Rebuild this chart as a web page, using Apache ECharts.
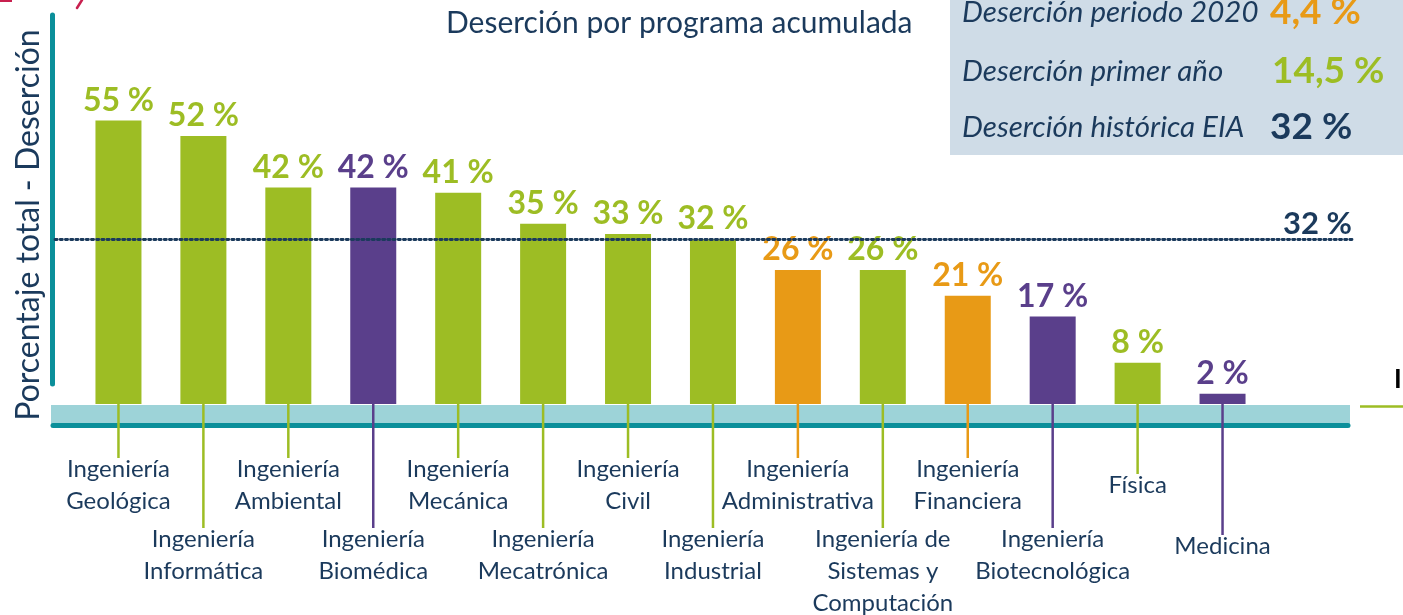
<!DOCTYPE html>
<html>
<head>
<meta charset="utf-8">
<script src="https://cdn.jsdelivr.net/npm/echarts@6/dist/echarts.min.js"></script>
<style>
  html, body { margin: 0; padding: 0; background: #ffffff; }
  #chart { width: 1403px; height: 615px; }
</style>
</head>
<body>
<div id="chart"></div>
<script>
// Programs, accumulated dropout (%) and the group each program belongs to
const programs = [
  'Ingeniería\nGeológica', 'Ingeniería\nInformática', 'Ingeniería\nAmbiental',
  'Ingeniería\nBiomédica', 'Ingeniería\nMecánica', 'Ingeniería\nMecatrónica',
  'Ingeniería\nCivil', 'Ingeniería\nIndustrial', 'Ingeniería\nAdministrativa',
  'Ingeniería de\nSistemas y\nComputación', 'Ingeniería\nFinanciera',
  'Ingeniería\nBiotecnológica', 'Física', 'Medicina'
];
const dropout = [55, 52, 42, 42, 41, 35, 33, 32, 26, 26, 21, 17, 8, 2];
const programGroup = ['A', 'A', 'A', 'B', 'A', 'A', 'A', 'A', 'C', 'A', 'C', 'B', 'A', 'B'];

// Historic reference rate
const historicRate = 32;

// Summary box
const summaryLabels = ['Deserción periodo 2020', 'Deserción primer año', 'Deserción histórica EIA'];
const summaryValues = ['4,4 %', '14,5 %', '32 %'];
const summaryGroup = ['C', 'A', 'N'];

const NAVY = '#1b3a5c';
const groupColor = { A: '#9dbd24', B: '#5a3f8b', C: '#e89a16', N: NAVY };
const FONT = 'Lato, "Open Sans", sans-serif';

// Vertical offset of each category label block (below the common label margin)
function labelGap(i) {
  const single = programs[i].indexOf('\n') < 0;
  const lower = i % 2 === 1;
  let gap = lower ? 70 : 0;
  if (single) gap += lower ? 7 : 16;
  return gap;
}

const chart = echarts.init(document.getElementById('chart'), null, { renderer: 'canvas' });

const summaryGraphics = [];
const rowY = [12, 71, 127];
const valueX = [1270, 1272, 1270];
summaryLabels.forEach(function (t, i) {
  summaryGraphics.push({
    type: 'text', z: 1,
    style: {
      x: 962, y: rowY[i], text: t, fill: NAVY,
      fontFamily: FONT, fontStyle: 'italic', fontSize: 29.5, verticalAlign: 'middle'
    }
  });
  summaryGraphics.push({
    type: 'text', z: 1,
    style: {
      x: valueX[i], y: rowY[i], text: summaryValues[i], fill: groupColor[summaryGroup[i]],
      fontFamily: FONT, fontWeight: 'bold', fontSize: 37, verticalAlign: 'middle'
    }
  });
});

const option = {
  backgroundColor: '#ffffff',
  animation: false,
  title: {
    text: 'Deserción por programa acumulada',
    left: 441, top: 3,
    textStyle: { color: NAVY, fontFamily: FONT, fontWeight: 'normal', fontSize: 30 }
  },
  grid: { left: 76, right: 138, top: 15, bottom: 210, containLabel: false },
  xAxis: {
    type: 'category',
    data: programs,
    axisLine: { show: false },
    axisTick: { show: false },
    axisLabel: {
      interval: 0,
      margin: 49,
      formatter: function (value, idx) {
        const parts = value.split('\n').map(function (s) { return '{t|' + s + '}'; });
        const gap = labelGap(idx);
        if (gap > 0) parts.unshift('{g' + gap + '| }');
        return parts.join('\n');
      },
      rich: (function () {
        const r = { t: { color: NAVY, fontFamily: FONT, fontSize: 24, lineHeight: 32 } };
        [16, 70, 77].forEach(function (g) { r['g' + g] = { fontSize: 10, lineHeight: g, height: g }; });
        return r;
      })()
    }
  },
  yAxis: {
    type: 'value',
    min: 0, max: 75.5,
    splitLine: { show: false },
    axisLine: { show: false },
    axisTick: { show: false },
    axisLabel: { show: false }
  },
  graphic: [
    { type: 'rect', z: 0, shape: { x: 950, y: 0, width: 453, height: 155 }, style: { fill: '#cfdce7' } },
    { type: 'rect', z: 0, shape: { x: 51, y: 405, width: 1299, height: 19 }, style: { fill: '#9dd3d8' } },
    { type: 'line', z: 0, shape: { x1: 53, y1: 425.5, x2: 1348, y2: 425.5 }, style: { stroke: '#0b8f9a', lineWidth: 5, lineCap: 'round' } },
    { type: 'line', z: 0, shape: { x1: 52.5, y1: 15, x2: 52.5, y2: 384 }, style: { stroke: '#0b8f9a', lineWidth: 5, lineCap: 'round' } },
    { type: 'line', z: 0, shape: { x1: 1360, y1: 406.5, x2: 1403, y2: 406.5 }, style: { stroke: '#9dbd24', lineWidth: 2.5 } },
    { type: 'text', z: 0, style: { x: 1394, y: 380, text: 'I', fill: '#000000', fontFamily: FONT, fontWeight: 'bold', fontSize: 26, verticalAlign: 'middle' } },
    // value axis title
    {
      type: 'text', z: 1, x: 29, y: 225, rotation: Math.PI / 2,
      style: {
        text: 'Porcentaje total - Deserción', fill: NAVY,
        fontFamily: FONT, fontSize: 32, align: 'center', verticalAlign: 'middle'
      }
    },
    // edge of the page header ornament
    { type: 'line', z: 0, shape: { x1: 0, y1: 1, x2: 12, y2: 1 }, style: { stroke: '#c8204f', lineWidth: 2 } },
    { type: 'line', z: 0, shape: { x1: 82, y1: 0, x2: 77, y2: 8 }, style: { stroke: '#c8204f', lineWidth: 2.5, lineCap: 'round' } }
  ].concat(summaryGraphics),
  series: [
    {
      type: 'bar',
      barWidth: 46,
      data: dropout.map(function (v, i) {
        const c = groupColor[programGroup[i]];
        return { value: v, itemStyle: { color: c }, label: { color: c } };
      }),
      label: {
        show: true,
        position: 'top',
        distance: 4,
        formatter: '{c} %',
        fontFamily: FONT, fontWeight: 'bold', fontSize: 32
      },
      markLine: {
        silent: true,
        symbol: 'none',
        lineStyle: { color: NAVY, width: 2.8, type: [2.2, 3], cap: 'round' },
        label: {
          show: true, position: 'insideEndTop', distance: 0,
          formatter: historicRate + ' %',
          color: NAVY, fontFamily: FONT, fontWeight: 'bold', fontSize: 31
        },
        data: [[{ x: 55, yAxis: historicRate }, { x: 1352, yAxis: historicRate }]]
      }
    },
    {
      // leader lines from each bar down to its category label
      type: 'custom',
      silent: true,
      z: 3,
      data: dropout.map(function (v, i) { return [i, 0]; }),
      encode: { x: 0, y: 1 },
      renderItem: function (params, api) {
        const i = api.value(0);
        const p = api.coord([i, 0]);
        const len = 54 + labelGap(i);
        return {
          type: 'line',
          shape: { x1: p[0], y1: p[1], x2: p[0], y2: p[1] + len },
          style: { stroke: groupColor[programGroup[i]], lineWidth: 2.5 }
        };
      }
    }
  ]
};

chart.setOption(option);
</script>
</body>
</html>
